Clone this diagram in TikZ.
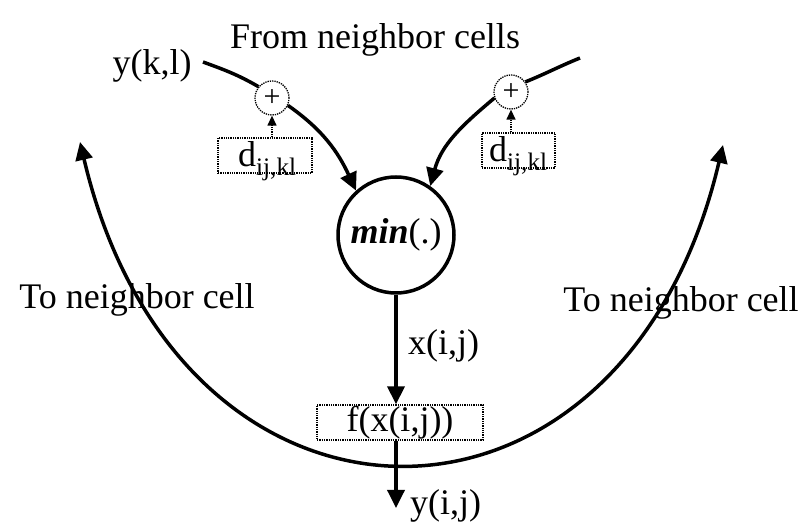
\documentclass[tikz,border=0pt]{standalone}
\usepackage{fontspec}
\setmainfont{Liberation Serif}
\usetikzlibrary{arrows.meta}
\begin{document}
\begin{tikzpicture}[x=1pt,y=1pt,
  every node/.style={font=\fontsize{36}{40}\selectfont, inner sep=0pt},
  thickline/.style={line width=3.5pt},
  bigtip/.style={-{Triangle[length=18pt,width=17pt]}},
  smalltip/.style={-{Triangle[length=10pt,width=9pt]}},
  dotbox/.style={draw, densely dotted, line width=1.3pt, minimum height=35pt},
  pluscirc/.style={circle, draw, densely dotted, line width=1.3pt, minimum size=34pt, font=\fontsize{30}{30}\selectfont}
]
\useasboundingbox (0,0) rectangle (806,522);

% texts
\node[anchor=base] (from) at (375,473) {From neighbor cells};
\node[anchor=base] (ykl) at (152,447) {y(k,l)};
\node[anchor=base] (toL) at (137,213) {To neighbor cell};
\node[anchor=base] (toR) at (681,210) {To neighbor cell};

% main circle
\node[circle, draw, line width=3.5pt, minimum size=116pt] (main) at (396,287) {};
\node (mintext) at (main.center) {\textbf{\textit{min}}(.)};

% plus circles
\node[pluscirc] (plusL) at (272,424) {+};
\node[pluscirc] (plusR) at (511,430) {+};

% d boxes
\node[dotbox, minimum width=94pt] (dL) at (265,366.5) {};
\node[anchor=base west] (dLt) at (238,355) {d\textsubscript{ij,kl}};
\node[dotbox, minimum width=73pt] (dR) at (518.5,371.5) {};
\node[anchor=base west] (dRt) at (489,360) {d\textsubscript{ij,kl}};

% f box
\node[dotbox, minimum width=166pt] (fbox) at (400,99.5) {f(x(i,j))};

% labels
\node[anchor=base west] (xij) at (408,167) {x(i,j)};
\node[anchor=base west] (yij) at (410,7) {y(i,j)};

% input curves
\coordinate (L0) at (203,460);
\coordinate (R0) at (580,464);
\draw[thickline] (L0) to[out=-20,in=150] (plusL.140);
\draw[thickline,bigtip] (plusL.-25) to[out=-35,in=115] (main.132);
\draw[thickline] (R0) to[out=-158,in=22] (plusR.35);
\draw[thickline,bigtip] (plusR.200) to[out=220,in=75] (main.55);

% d arrows
\draw[densely dotted, line width=1.3pt, smalltip] (dL.north -| plusL) -- (plusL.south);
\draw[densely dotted, line width=1.3pt, smalltip] (dR.north -| plusR) -- (plusR.south);

% vertical flow
\coordinate (yend) at (396,14);
\draw[thickline,bigtip] (main.south) -- (main.south |- fbox.north);
\draw[thickline,bigtip] (main.south |- fbox.south) -- (yend);

% big U curve
\coordinate (UL) at (80,380);
\coordinate (UR) at (723,377);
\draw[thickline,{Triangle[length=18pt,width=17pt]}-{Triangle[length=18pt,width=17pt]}]
  (UL) .. controls (180,-45) and (623,-48) .. (UR);
\end{tikzpicture}
\end{document}
